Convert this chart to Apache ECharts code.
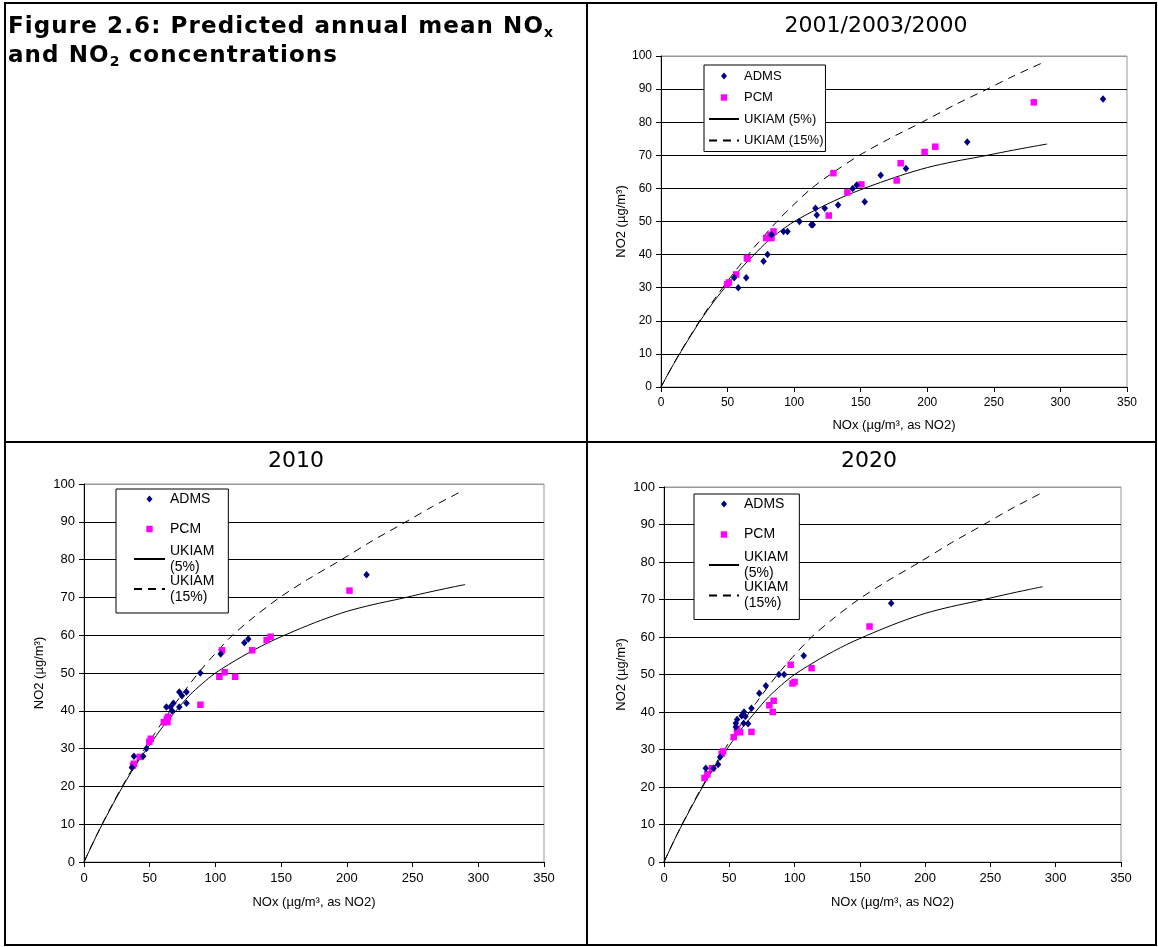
<!DOCTYPE html>
<html>
<head>
<meta charset="utf-8">
<script src="https://cdn.jsdelivr.net/npm/echarts@6/dist/echarts.min.js"></script>
<style>
  html, body { margin:0; padding:0; background:#fff; }
  #wrap { position:relative; width:1158px; height:947px; overflow:hidden; }
  #chart { position:absolute; left:0; top:0; width:1158px; height:947px; }
  .bd { position:absolute; background:#000; }
  #figtitle { position:absolute; left:8px; top:11px; font-family:'DejaVu Sans', Verdana, sans-serif;
    font-weight:bold; font-size:23px; letter-spacing:1.1px; line-height:29px; color:#000; white-space:nowrap; }
  #figtitle sub { font-size:14px; vertical-align:-4px; line-height:0; letter-spacing:0; }
</style>
</head>
<body>
<div id="wrap">
  <div id="chart"></div>
  <div class="bd" style="left:4px;top:2px;width:1153px;height:2px"></div>
  <div class="bd" style="left:4px;top:944px;width:1153px;height:2px"></div>
  <div class="bd" style="left:4px;top:2px;width:2px;height:944px"></div>
  <div class="bd" style="left:1155px;top:2px;width:2px;height:944px"></div>
  <div class="bd" style="left:586px;top:2px;width:2px;height:944px"></div>
  <div class="bd" style="left:4px;top:441px;width:1153px;height:2px"></div>
  <div id="figtitle">Figure 2.6: Predicted annual mean NO<sub>x</sub><br>and NO<sub>2</sub> concentrations</div>
</div>
<script>
// ---------- data ----------
const panelTitles = ['2001/2003/2000', '2010', '2020'];
const xAxisName = 'NOx (µg/m³, as NO2)';
const yAxisName = 'NO2 (µg/m³)';
const legendNames = ['ADMS', 'PCM', 'UKIAM (5%)', 'UKIAM (15%)'];

// UKIAM curves (same in all panels)
const ukiam5 = [[0,0],[10,7.3],[20,14],[30,20.3],[40,26],[50,31],[60,35.8],[70,40],[80,44],[90,47.2],[100,50],
  [120,54.3],[140,58],[160,61.1],[180,63.9],[200,66.3],[220,68.1],[240,69.6],[260,71.2],[280,72.7],[290,73.4]];
const ukiam15 = [[0,0],[10,7.4],[20,14.2],[30,20.6],[40,26.5],[50,32],[60,37.2],[70,42.2],[87,50],[100,55.2],
  [113,60],[130,65],[149,70],[170,74.7],[196,80],[220,85.1],[245,90],[265,94],[288,98.2]];

// 2001/2003/2000
const adms2001 = [[332,87],[230,74],[184,66],[165,64],[144,60],[147,61],[153,56],[133,55],[123,54],[116,54],
  [117,52],[113,49],[114,49],[104,50],[95,47],[92,47],[80,40],[77,38],[64,33],[55,33],[58,30],[83,46]];
const pcm2001 = [[280,86],[206,72.6],[198,71],[180,67.6],[177,62.4],[150.5,61.2],[140,58.8],[129.5,64.6],[126,51.8],
  [84.5,47],[82,46],[83,45],[79,45],[65,38.8],[64.5,39],[56.5,34],[51,31.6],[49.7,31]];

// 2010
const adms2010 = [[215,76],[125,59],[122,58],[104,55],[88.5,50],[78,45],[72.5,45],[74.5,44],[78,42],[72.5,41],
  [68,42],[62.7,41],[65.7,41],[67,40],[47.5,30],[45,28],[38,28],[36.5,25]];
const pcm2010 = [[202,71.8],[142,59.6],[139,58.7],[128,56],[105,56],[107,50.2],[103,49],[115,49],[88.6,41.6],
  [64,38.4],[63,37.8],[60.7,37],[63.5,37],[50.8,32.6],[49.7,31.8],[42.4,27.8],[38,26],[37.3,25.5]];

// 2020
const adms2020 = [[174,69],[107,55],[92,50],[88,50],[78,47],[73,45],[67,41],[61.3,40],[59.5,39],[62.3,38.8],
  [56,38],[55,37],[61,37],[64.4,36.9],[55,36],[43,28],[41.4,26],[38,25],[32,25]];
const pcm2020 = [[157.4,62.8],[113,51.7],[97,52.6],[100,48],[98.4,47.6],[84,43],[80.7,41.8],[83.3,40],[67,34.7],
  [58.3,34.6],[56,34.7],[56,35.5],[53.4,33.3],[45.2,29.5],[44.2,28.9],[36.8,25],[33.2,23.4],[31,22.4]];

const admsSets = [adms2001, adms2010, adms2020];
const pcmSets = [pcm2001, pcm2010, pcm2020];

// ---------- layout ----------
const grids = [
  {left:661, top:56, width:466, height:331},
  {left:84, top:484, width:460, height:378},
  {left:664, top:487, width:457, height:375}
];
const tickFont = [12, 13, 13];
const xNameGap = [32, 34, 34];
const yNameGap = [33, 38, 36];
const titlePos = [{x:876, y:15}, {x:296, y:450}, {x:869, y:450}];

const FONT = "'Liberation Sans', Arial, sans-serif";
const splitColors = ['#000','#000','#000','#000','#000','#000','#000','#000','#000','#000','#999'];

// legend marker icons: small diamond / square centred in an itemWidth x itemHeight box
function diamondIcon(w, h) {
  const c = w / 2;
  return 'path://M0,0M' + w + ',' + h + 'M' + (c - 3) + ',' + (h / 2) + 'L' + c + ',0L' + (c + 3) + ',' + (h / 2) + 'L' + c + ',' + h + 'Z';
}
function squareIcon(w, h) {
  const c = w / 2;
  return 'path://M0,0M' + w + ',' + h + 'M' + (c - 3.2) + ',0.3L' + (c + 3.2) + ',0.3L' + (c + 3.2) + ',' + (h - 0.3) + 'L' + (c - 3.2) + ',' + (h - 0.3) + 'Z';
}
function legendData(w, h, multi) {
  const lineText = multi ? {lineHeight:16, padding:[16,0,0,0]} : undefined;
  return [
    {name:legendNames[0], icon:diamondIcon(w, h), itemStyle:{color:'#000080'}},
    {name:legendNames[1], icon:squareIcon(w, h), itemStyle:{color:'#FF00FF'}},
    Object.assign({name:legendNames[2], itemStyle:{opacity:0}}, lineText ? {textStyle:lineText} : {}),
    Object.assign({name:legendNames[3], itemStyle:{opacity:0}}, lineText ? {textStyle:lineText} : {})
  ];
}

const option = {
  animation:false,
  backgroundColor:'transparent',
  title: panelTitles.map((t,i)=>({
    text:t, left:titlePos[i].x, top:titlePos[i].y, textAlign:'center', padding:0,
    textStyle:{fontFamily:"'DejaVu Sans', Verdana, sans-serif", fontSize:22, fontWeight:'normal', color:'#000'}
  })),
  grid: grids.map(g=>({left:g.left, top:g.top, width:g.width, height:g.height, show:true,
    borderColor:'#999', borderWidth:1, backgroundColor:'transparent', containLabel:false})),
  xAxis: grids.map((g,i)=>({
    type:'value', gridIndex:i, min:0, max:350, interval:50,
    name:xAxisName, nameLocation:'middle', nameGap:xNameGap[i],
    nameTextStyle:{fontFamily:FONT, fontSize:13, color:'#000'},
    axisLine:{show:true, onZero:false, lineStyle:{color:'#000', width:1}},
    axisTick:{show:true, length:5, lineStyle:{color:'#000'}},
    axisLabel:{fontFamily:FONT, fontSize:tickFont[i], color:'#000', margin:10},
    splitLine:{show:false}
  })),
  yAxis: grids.map((g,i)=>({
    type:'value', gridIndex:i, min:0, max:100, interval:10,
    name:yAxisName, nameLocation:'middle', nameGap:yNameGap[i],
    nameTextStyle:{fontFamily:FONT, fontSize:13, color:'#000'},
    axisLine:{show:true, onZero:false, lineStyle:{color:'#000', width:1}},
    axisTick:{show:true, length:5, lineStyle:{color:'#000'}},
    axisLabel:{fontFamily:FONT, fontSize:tickFont[i], color:'#000', margin:9},
    splitLine:{show:true, lineStyle:{color:splitColors, width:1}}
  })),
  legend: [
    {
      left:704, top:65, orient:'vertical', itemWidth:30, itemHeight:7, itemGap:7.5,
      padding:[4,2,4,4], backgroundColor:'#fff', borderColor:'#000', borderWidth:1,
      selectedMode:false,
      textStyle:{fontFamily:FONT, fontSize:13, color:'#000', lineHeight:14},
      data:legendData(30, 7, false)
    },
    {
      left:116, top:489, orient:'vertical', itemWidth:31, itemHeight:7, itemGap:-18,
      padding:[-14,14,0,17], backgroundColor:'#fff', borderColor:'#000', borderWidth:1,
      selectedMode:false,
      formatter:n=>n.replace('UKIAM ','UKIAM\n'),
      textStyle:{fontFamily:FONT, fontSize:14, color:'#000', lineHeight:48},
      data:legendData(31, 7, true)
    },
    {
      left:694, top:494, orient:'vertical', itemWidth:30, itemHeight:7, itemGap:-17.5,
      padding:[-14,11,0,14], backgroundColor:'#fff', borderColor:'#000', borderWidth:1,
      selectedMode:false,
      formatter:n=>n.replace('UKIAM ','UKIAM\n'),
      textStyle:{fontFamily:FONT, fontSize:14, color:'#000', lineHeight:48},
      data:legendData(30, 7, true)
    }
  ],
  series: []
};

for (let i = 0; i < 3; i++) {
  option.series.push({
    name:legendNames[2], type:'line', xAxisIndex:i, yAxisIndex:i, data:ukiam5,
    smooth:0.3, symbol:'circle', showSymbol:false, silent:true, z:3,
    lineStyle:{color:'#000', width:1, type:'solid'}, itemStyle:{color:'#000'}
  });
  option.series.push({
    name:legendNames[3], type:'line', xAxisIndex:i, yAxisIndex:i, data:ukiam15,
    smooth:0.3, symbol:'circle', showSymbol:false, silent:true, z:3,
    lineStyle:{color:'#000', width:1, type:[8,6]}, itemStyle:{color:'#000'}
  });
  option.series.push({
    name:legendNames[1], type:'scatter', xAxisIndex:i, yAxisIndex:i, data:pcmSets[i],
    symbol:'rect', symbolSize:6.5, z:4, itemStyle:{color:'#FF00FF', opacity:1}
  });
  option.series.push({
    name:legendNames[0], type:'scatter', xAxisIndex:i, yAxisIndex:i, data:admsSets[i],
    symbol:'diamond', symbolSize:[6.5,7.5], z:5, itemStyle:{color:'#000080', opacity:1}
  });
}

const chart = echarts.init(document.getElementById('chart'), null, {renderer:'canvas'});
chart.setOption(option);
</script>
</body>
</html>
